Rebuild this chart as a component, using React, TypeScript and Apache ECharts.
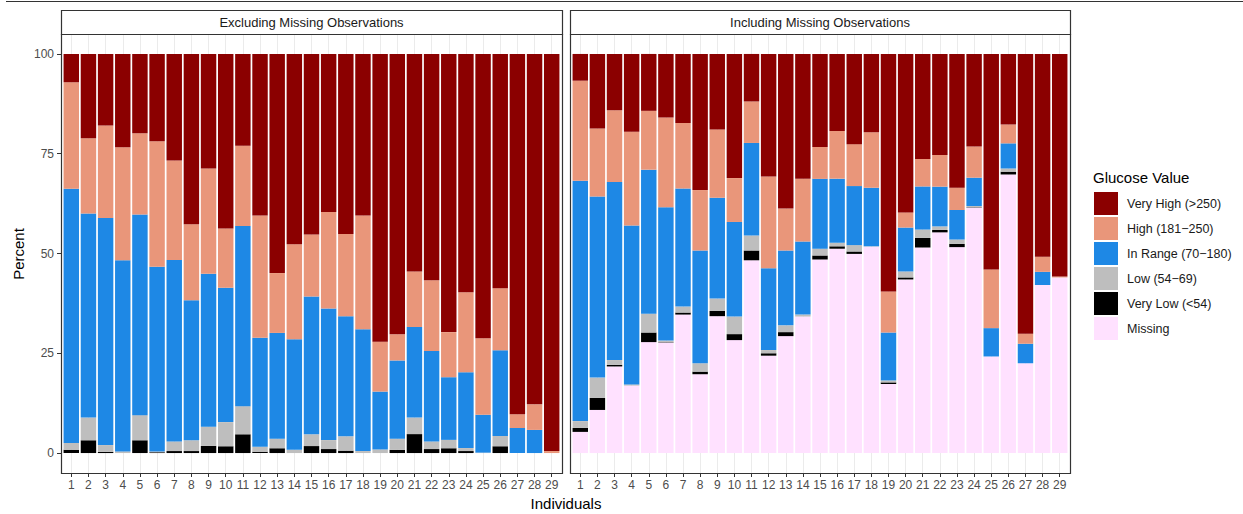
import React, { useEffect, useRef } from "react";
import * as echarts from "echarts";

const INDIVIDUALS = [1, 2, 3, 4, 5, 6, 7, 8, 9, 10, 11, 12, 13, 14, 15, 16, 17, 18, 19, 20, 21, 22, 23, 24, 25, 26, 27, 28, 29];
const Y_TICKS = [0, 25, 50, 75, 100];

const CATEGORY_NAMES = {
  vh: "Very High (>250)",
  high: "High (181\u2212250)",
  ir: "In Range (70\u2212180)",
  low: "Low (54\u221269)",
  vl: "Very Low (<54)",
  missing: "Missing",
};

// Excluding Missing Observations (percent)
const EX_VERY_LOW = [0.8, 3.2, 0.3, 0, 3.2, 0.2, 0.5, 0.5, 1.8, 1.7, 4.7, 0.3, 1.2, 0, 1.75, 1.0, 0.6, 0, 0, 0.8, 4.75, 1.0, 1.2, 0.5, 0, 1.7, 0, 0, 0];
const EX_LOW = [1.7, 5.7, 1.7, 0.4, 6.3, 0.2, 2.4, 2.7, 4.8, 6.05, 7.05, 1.3, 2.4, 0.8, 2.95, 2.25, 3.6, 0.5, 0.9, 2.8, 4.15, 1.9, 2.1, 0.75, 0.1, 2.6, 0, 0, 0];
const EX_IN_RANGE = [63.7, 51.1, 56.9, 47.9, 50.25, 46.3, 45.5, 35.1, 38.3, 33.65, 45.15, 27.3, 26.5, 27.7, 34.5, 32.95, 30.05, 30.5, 14.5, 19.6, 22.7, 22.7, 15.7, 19.0, 9.5, 21.45, 6.3, 5.8, 0];
const EX_HIGH = [26.7, 18.9, 23.2, 28.3, 20.35, 31.4, 24.9, 19.0, 26.4, 14.85, 20.1, 30.6, 15.0, 23.8, 15.55, 24.2, 20.65, 28.5, 12.5, 6.55, 13.9, 17.7, 11.3, 20.05, 19.15, 15.55, 3.45, 6.4, 0.5];
const EX_VERY_HIGH = [7.1, 21.1, 17.9, 23.4, 19.9, 21.9, 26.7, 42.7, 28.7, 43.75, 23.0, 40.5, 54.9, 47.7, 45.25, 39.6, 45.1, 40.5, 72.1, 70.25, 54.5, 56.7, 69.7, 59.7, 71.25, 58.7, 90.25, 87.8, 99.5];

// Including Missing Observations (percent)
const IN_MISSING = [5.3, 10.8, 21.7, 16.9, 27.8, 27.7, 34.7, 19.75, 34.3, 28.3, 48.3, 24.4, 29.3, 34.2, 48.5, 51.2, 49.9, 51.7, 17.3, 43.5, 51.5, 55.3, 51.6, 61.5, 24.2, 69.8, 22.5, 42.1, 44.0];
const IN_VERY_LOW = [1.0, 3.0, 0.4, 0, 2.4, 0.1, 0.5, 0.65, 1.3, 1.5, 2.45, 0.6, 1.0, 0, 1.0, 0.6, 0.6, 0, 0.4, 0.5, 2.4, 0.6, 0.8, 0.1, 0, 0.7, 0, 0, 0];
const IN_LOW = [1.7, 5.1, 1.2, 0.3, 4.7, 0.4, 1.5, 2.1, 3.1, 4.4, 3.75, 0.8, 1.7, 0.5, 1.7, 0.9, 1.6, 0.1, 0.5, 1.5, 2.1, 0.9, 1.1, 0.3, 0, 0.8, 0, 0, 0];
const IN_IN_RANGE = [60.2, 45.4, 44.6, 39.8, 36.1, 33.4, 29.6, 28.25, 25.3, 23.7, 23.2, 20.5, 18.75, 18.3, 17.5, 16.05, 14.8, 14.7, 12.0, 11.0, 10.8, 9.95, 7.4, 7.1, 7.1, 6.3, 4.9, 3.3, 0];
const IN_HIGH = [25.1, 17.0, 18.0, 23.5, 14.75, 22.5, 16.4, 15.15, 17.1, 11.0, 10.4, 23.0, 10.5, 15.7, 8.0, 11.95, 10.5, 13.9, 10.3, 3.8, 6.9, 7.95, 5.6, 7.8, 14.7, 4.7, 2.5, 3.8, 0.25];
const IN_VERY_HIGH = [6.7, 18.7, 14.1, 19.5, 14.25, 15.9, 17.3, 34.1, 18.9, 31.1, 11.9, 30.7, 38.75, 31.3, 23.3, 19.3, 22.6, 19.6, 59.5, 39.7, 26.3, 25.3, 33.5, 23.2, 54.0, 17.7, 70.1, 50.8, 55.75];

const COLORS = {
  vh: "#8B0000",
  high: "#E9967A",
  ir: "#1E88E5",
  low: "#BEBEBE",
  vl: "#000000",
  missing: "#FFE1FF",
};

const FONT = "'Liberation Sans', Arial, sans-serif";

const PANELS = [
  { left: 61, width: 501, title: "Excluding Missing Observations" },
  { left: 570, width: 500, title: "Including Missing Observations" },
];
const PANEL_TOP = 34;
const PANEL_HEIGHT = 439;
const STRIP_TOP = 10;
const STRIP_HEIGHT = 24;

// Category slots 0..30: the outer two are empty padding so that the slot
// positions line up with ggplot's discrete expansion.
const X_SLOTS = ["", ...INDIVIDUALS.map(String), ""];

function padded(values: number[]) {
  return ["-", ...values, "-"];
}

const isRealSlot = (index: number) => index >= 1 && index <= INDIVIDUALS.length;

export default function App() {
  const ref = useRef<HTMLDivElement>(null);

  useEffect(() => {
    if (!ref.current) return;
    const chart = echarts.init(ref.current, null, { renderer: "svg" });

    const grids = PANELS.map((p) => {
      const unit = p.width / 29.2;
      return {
        left: p.left - 0.4 * unit,
        top: PANEL_TOP,
        width: 30 * unit,
        height: PANEL_HEIGHT,
      };
    });

    const xAxes = PANELS.map((_, gi) => ({
      type: "category",
      gridIndex: gi,
      data: X_SLOTS,
      boundaryGap: false,
      axisLine: { show: false, onZero: false },
      axisTick: {
        show: true,
        interval: (index: number) => isRealSlot(index),
        length: 4,
        lineStyle: { color: "#333333", width: 1 },
      },
      axisLabel: {
        interval: 0,
        color: "#4D4D4D",
        fontSize: 12,
        fontFamily: FONT,
        margin: 6,
      },
      splitLine: {
        show: true,
        interval: (index: number) => isRealSlot(index),
        lineStyle: { color: "#EBEBEB", width: 1 },
      },
    }));

    const yAxes = PANELS.map((p, gi) => {
      const unit = p.width / 29.2;
      return {
        type: "value",
        gridIndex: gi,
        min: -5,
        max: 105,
        show: gi === 0,
        offset: -0.4 * unit,
        axisLine: { show: false },
        axisTick: {
          show: true,
          customValues: Y_TICKS,
          length: 4,
          lineStyle: { color: "#333333", width: 1 },
        },
        axisLabel: {
          customValues: Y_TICKS,
          color: "#4D4D4D",
          fontSize: 12,
          fontFamily: FONT,
          margin: 7,
          formatter: (v: number) => (Y_TICKS.indexOf(v) >= 0 ? String(v) : ""),
        },
        splitLine: { show: false },
      };
    });

    const barWidth = 0.9 * (501 / 29.2);
    const mk = (name: string, color: string, data: number[], gi: number) => ({
      type: "bar",
      name,
      xAxisIndex: gi,
      yAxisIndex: gi,
      stack: "s" + gi,
      barWidth,
      data: padded(data),
      itemStyle: { color },
      emphasis: { disabled: true },
      silent: true,
    });

    const series = [
      mk(CATEGORY_NAMES.vl, COLORS.vl, EX_VERY_LOW, 0),
      mk(CATEGORY_NAMES.low, COLORS.low, EX_LOW, 0),
      mk(CATEGORY_NAMES.ir, COLORS.ir, EX_IN_RANGE, 0),
      mk(CATEGORY_NAMES.high, COLORS.high, EX_HIGH, 0),
      mk(CATEGORY_NAMES.vh, COLORS.vh, EX_VERY_HIGH, 0),
      mk(CATEGORY_NAMES.missing, COLORS.missing, IN_MISSING, 1),
      mk(CATEGORY_NAMES.vl, COLORS.vl, IN_VERY_LOW, 1),
      mk(CATEGORY_NAMES.low, COLORS.low, IN_LOW, 1),
      mk(CATEGORY_NAMES.ir, COLORS.ir, IN_IN_RANGE, 1),
      mk(CATEGORY_NAMES.high, COLORS.high, IN_HIGH, 1),
      mk(CATEGORY_NAMES.vh, COLORS.vh, IN_VERY_HIGH, 1),
    ];

    const graphics: any[] = [
      {
        type: "line",
        z: 100,
        shape: { x1: 6, y1: 1.5, x2: 1243, y2: 1.5 },
        style: { stroke: "#333333", lineWidth: 1 },
      },
    ];
    PANELS.forEach((p) => {
      graphics.push({
        type: "rect",
        z: 100,
        shape: { x: p.left + 0.5, y: PANEL_TOP + 0.5, width: p.width, height: PANEL_HEIGHT },
        style: { fill: "none", stroke: "#333333", lineWidth: 1.2 },
      });
      graphics.push({
        type: "rect",
        z: 100,
        shape: { x: p.left + 0.5, y: STRIP_TOP + 0.5, width: p.width, height: STRIP_HEIGHT },
        style: { fill: "#FFFFFF", stroke: "#333333", lineWidth: 1.2 },
      });
      graphics.push({
        type: "text",
        z: 101,
        x: p.left + p.width / 2,
        y: STRIP_TOP + STRIP_HEIGHT / 2 + 0.5,
        style: {
          text: p.title,
          fill: "#1A1A1A",
          font: `13px ${FONT}`,
          align: "center",
          verticalAlign: "middle",
        },
      });
    });
    graphics.push({
      type: "text",
      z: 101,
      x: 18,
      y: 254,
      rotation: Math.PI / 2,
      style: {
        text: "Percent",
        fill: "#000000",
        font: `15px ${FONT}`,
        align: "center",
        verticalAlign: "middle",
      },
    });
    graphics.push({
      type: "text",
      z: 101,
      x: 566,
      y: 503.5,
      style: {
        text: "Individuals",
        fill: "#000000",
        font: `15px ${FONT}`,
        align: "center",
        verticalAlign: "middle",
      },
    });
    graphics.push({
      type: "text",
      z: 101,
      x: 1093,
      y: 177,
      style: {
        text: "Glucose Value",
        fill: "#000000",
        font: `15px ${FONT}`,
        align: "left",
        verticalAlign: "middle",
      },
    });

    chart.setOption({
      animation: false,
      grid: grids,
      xAxis: xAxes,
      yAxis: yAxes,
      legend: {
        data: [
          CATEGORY_NAMES.vh,
          CATEGORY_NAMES.high,
          CATEGORY_NAMES.ir,
          CATEGORY_NAMES.low,
          CATEGORY_NAMES.vl,
          CATEGORY_NAMES.missing,
        ],
        orient: "vertical",
        left: 1094,
        top: 192,
        padding: 0,
        itemWidth: 24,
        itemHeight: 23,
        itemGap: 2,
        icon: "rect",
        selectedMode: false,
        textStyle: {
          fontSize: 12.5,
          color: "#1A1A1A",
          fontFamily: FONT,
          padding: [0, 0, 0, 4],
        },
      },
      graphic: graphics,
      series,
    });

    return () => chart.dispose();
  }, []);

  return (
    <div
      ref={ref}
      style={{ position: "fixed", left: 0, top: 0, width: 1243, height: 514, background: "#FFFFFF" }}
    />
  );
}
